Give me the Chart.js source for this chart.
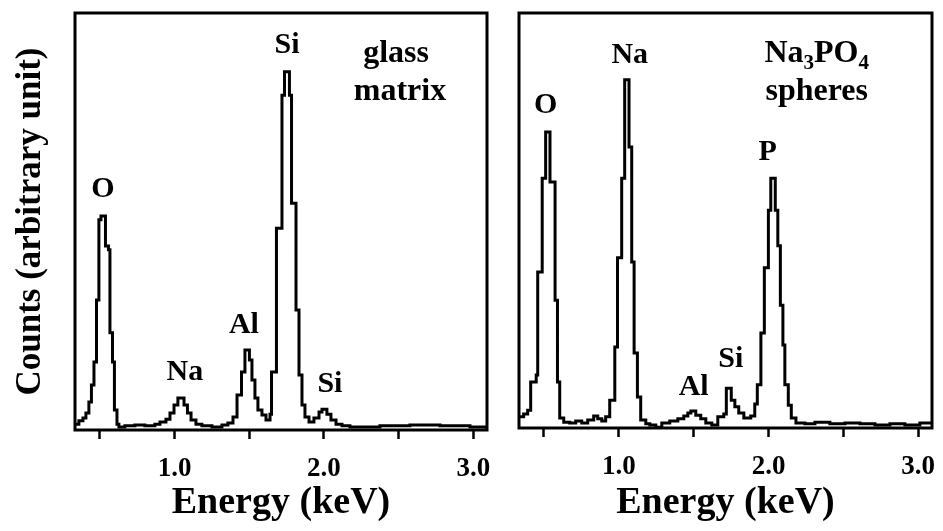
<!DOCTYPE html>
<html>
<head>
<meta charset="utf-8">
<script src="https://cdn.jsdelivr.net/npm/chart.js@4.4.1/dist/chart.umd.min.js"></script>
<style>
html, body { margin: 0; padding: 0; background: #fff; }
#wrap { position: relative; width: 943px; height: 531px; overflow: hidden; }
#glass { position: absolute; left: 0; top: 0; }
#spheres { position: absolute; left: 500px; top: 0; }
</style>
</head>
<body>
<div id="wrap">
<canvas id="glass" width="500" height="531"></canvas>
<canvas id="spheres" width="443" height="531"></canvas>
</div>
<script>
'use strict';

// EDS spectrum of the glass matrix: step edges (keV) and counts (arb. unit)
var glassEnergy = [0.333, 0.359, 0.386, 0.406, 0.426, 0.443, 0.460, 0.477, 0.493, 0.507,
	0.537, 0.557, 0.567, 0.584, 0.597, 0.614, 0.627, 0.667, 0.734, 0.801,
	0.868, 0.902, 0.942, 0.969, 0.996, 1.022, 1.063, 1.086, 1.110, 1.143,
	1.183, 1.250, 1.317, 1.357, 1.391, 1.418, 1.448, 1.471, 1.501, 1.518,
	1.538, 1.558, 1.585, 1.612, 1.639, 1.649, 1.682, 1.719, 1.736, 1.769,
	1.783, 1.813, 1.833, 1.853, 1.873, 1.900, 1.933, 1.967, 1.987, 2.020,
	2.047, 2.081, 2.121, 2.174, 2.375, 2.576, 2.777, 2.978, 3.092];
var glassCounts = [1.4, 2.2, 2.9, 4.1, 6.7, 10.8, 16.3, 31.2, 50.4, 51.3,
	44.1, 43.2, 23.3, 16.3, 4.8, 1.4, 0.7, 1.0, 1.2, 1.0,
	1.4, 1.9, 2.6, 4.1, 6.0, 7.7, 6.0, 4.1, 2.4, 1.4,
	1.0, 0.7, 1.2, 1.7, 3.1, 8.4, 13.9, 19.2, 16.8, 12.0,
	7.7, 4.8, 3.6, 2.4, 3.8, 13.9, 48.4, 80.3, 85.9, 80.3,
	54.4, 28.8, 13.2, 6.0, 3.1, 1.9, 2.9, 4.3, 5.0, 3.8,
	2.4, 1.4, 1.0, 0.7, 1.0, 1.2, 1.0, 0.7, 0.7];

// EDS spectrum of the Na3PO4 spheres
var sphereEnergy = [0.334, 0.364, 0.391, 0.411, 0.448, 0.458, 0.488, 0.511, 0.540, 0.574,
	0.590, 0.605, 0.632, 0.672, 0.712, 0.752, 0.792, 0.832, 0.859, 0.886,
	0.912, 0.939, 0.973, 0.991, 1.019, 1.039, 1.068, 1.086, 1.102, 1.124,
	1.146, 1.180, 1.207, 1.247, 1.287, 1.340, 1.394, 1.434, 1.461, 1.481,
	1.514, 1.547, 1.581, 1.621, 1.661, 1.701, 1.718, 1.751, 1.775, 1.801,
	1.835, 1.881, 1.908, 1.925, 1.949, 1.972, 1.999, 2.015, 2.045, 2.062,
	2.079, 2.096, 2.109, 2.132, 2.152, 2.183, 2.243, 2.310, 2.410, 2.511,
	2.611, 2.711, 2.811, 2.911, 3.011, 3.092];
var sphereCounts = [2.7, 3.4, 4.3, 11.1, 12.8, 37.6, 60.2, 71.3, 59.3, 30.8,
	11.1, 2.4, 1.4, 1.2, 1.7, 1.2, 1.9, 2.9, 2.2, 1.7,
	2.7, 6.7, 19.5, 41.0, 60.2, 83.9, 67.7, 40.0, 18.1, 7.5,
	1.9, 1.0, 0.7, 0.2, 1.2, 1.7, 2.2, 2.9, 3.6, 4.1,
	3.1, 2.2, 1.2, 0.7, 2.7, 3.4, 9.6, 6.7, 5.1, 3.6,
	2.4, 2.9, 5.8, 10.4, 22.9, 38.6, 52.5, 60.2, 52.5, 43.9,
	29.6, 20.0, 10.4, 5.5, 2.4, 1.2, 1.0, 1.4, 1.0, 1.2,
	1.0, 0.7, 1.0, 0.7, 1.2, 1.2];

var energyTicks = [0.5, 1.0, 1.5, 2.0, 2.5, 3.0];
var tickLabels = ['', '1.0', '', '2.0', '', '3.0'];

// peak labels placed at (keV, counts); text baseline sits at the count value
var glassLabels = [
	{ text: 'O', e: 0.52, c: 55.9 },
	{ text: 'Na', e: 1.069, c: 12.0 },
	{ text: 'Al', e: 1.464, c: 23.3 },
	{ text: 'Si', e: 1.753, c: 90.4 },
	{ text: 'Si', e: 2.04, c: 9.1 },
	{ text: 'glass', e: 2.483, c: 88.2, note: true },
	{ text: 'matrix', e: 2.509, c: 79.1, note: true }
];
var sphereLabels = [
	{ text: 'O', e: 0.511, c: 75.9 },
	{ text: 'Na', e: 1.073, c: 88.0 },
	{ text: 'Al', e: 1.50, c: 8.0 },
	{ text: 'Si', e: 1.748, c: 14.7 },
	{ text: 'P', e: 1.994, c: 64.6 },
	{ text: 'Na3PO4', e: 2.322, c: 88.2, note: true },
	{ text: 'spheres', e: 2.322, c: 79.0, note: true }
];

var SERIF = '"Liberation Serif", "Times New Roman", serif';

// white background + thick frame round the plot area
var framePlugin = {
	id: 'frame',
	beforeDraw: function (chart) {
		var ctx = chart.ctx;
		ctx.save();
		ctx.fillStyle = '#fff';
		ctx.fillRect(0, 0, chart.width, chart.height);
		ctx.restore();
	},
	afterDatasetsDraw: function (chart) {
		var a = chart.chartArea,
			ctx = chart.ctx;
		ctx.save();
		ctx.strokeStyle = '#000';
		ctx.lineWidth = 3;
		ctx.strokeRect(a.left, a.top, a.right - a.left, a.bottom - a.top);
		ctx.restore();
	}
};

// element names; digits in a note are drawn as subscripts
var labelPlugin = {
	id: 'peakLabels',
	afterDatasetsDraw: function (chart, args, opts) {
		var ctx = chart.ctx,
			xs = chart.scales.x,
			ys = chart.scales.y;
		ctx.save();
		ctx.fillStyle = '#000';
		ctx.textBaseline = 'alphabetic';
		ctx.textAlign = 'left';
		(opts.items || []).forEach(function (item) {
			var size = item.note ? 32 : 30,
				subSize = 21,
				parts = item.text.match(/(\d+|\D+)/g),
				widths = [],
				total = 0,
				x = xs.getPixelForValue(item.e),
				y = ys.getPixelForValue(item.c);
			parts.forEach(function (p) {
				ctx.font = 'bold ' + (/\d/.test(p) ? subSize : size) + 'px ' + SERIF;
				var w = ctx.measureText(p).width;
				widths.push(w);
				total += w;
			});
			x -= total / 2;
			parts.forEach(function (p, i) {
				var isSub = /\d/.test(p);
				ctx.font = 'bold ' + (isSub ? subSize : size) + 'px ' + SERIF;
				ctx.fillText(p, x, isSub ? y + 7 : y);
				x += widths[i];
			});
		});
		ctx.restore();
	}
};

function spectrumChart(canvasId, energy, counts, labels, opt) {
	var points = energy.map(function (e, i) {
		return { x: e, y: counts[i] };
	});

	return new Chart(document.getElementById(canvasId), {
		type: 'line',
		data: {
			datasets: [{
				data: points,
				stepped: 'before',
				borderColor: '#000',
				borderWidth: 3,
				pointRadius: 0,
				fill: false,
				tension: 0
			}]
		},
		options: {
			responsive: false,
			animation: false,
			devicePixelRatio: 1,
			layout: { padding: opt.padding },
			plugins: {
				legend: { display: false },
				tooltip: { enabled: false },
				peakLabels: { items: labels }
			},
			scales: {
				x: {
					type: 'linear',
					min: 0.333,
					max: 3.092,
					afterBuildTicks: function (axis) {
						axis.ticks = energyTicks.map(function (v) {
							return { value: v };
						});
					},
					afterFit: function (axis) {
						// keep the plot box where the reference has it
						axis.height = opt.xAxisHeight;
						axis.paddingLeft = 0;
						axis.paddingRight = 0;
					},
					ticks: {
						autoSkip: false,
						maxRotation: 0,
						padding: 14,
						color: '#000',
						font: { family: SERIF, size: 27, weight: 'bold' },
						callback: function (value, index) {
							return tickLabels[index];
						}
					},
					grid: {
						display: true,
						drawOnChartArea: false,
						drawTicks: true,
						tickLength: 9,
						tickWidth: 2.5,
						tickColor: '#000'
					},
					border: { display: false },
					title: {
						display: true,
						text: 'Energy (keV)',
						color: '#000',
						font: { family: SERIF, size: 38, weight: 'bold' },
						padding: { top: 0, bottom: 5 }
					}
				},
				y: {
					min: 0,
					max: 100,
					display: opt.showY,
					afterFit: function (axis) {
						axis.width = opt.showY ? 75 : 0;
					},
					ticks: { display: false },
					grid: { display: false },
					border: { display: false },
					title: {
						display: true,
						text: 'Counts (arbitrary unit)',
						color: '#000',
						font: { family: SERIF, size: 35, weight: 'bold' },
						padding: { top: 10, bottom: 0 }
					}
				}
			}
		},
		plugins: [framePlugin, labelPlugin]
	});
}

spectrumChart('glass', glassEnergy, glassCounts, glassLabels, {
	padding: { left: 0, top: 13, right: 13, bottom: 0 },
	xAxisHeight: 101,
	showY: true
});

spectrumChart('spheres', sphereEnergy, sphereCounts, sphereLabels, {
	padding: { left: 19, top: 13, right: 11, bottom: 0 },
	xAxisHeight: 103,
	showY: false
});
</script>
</body>
</html>
